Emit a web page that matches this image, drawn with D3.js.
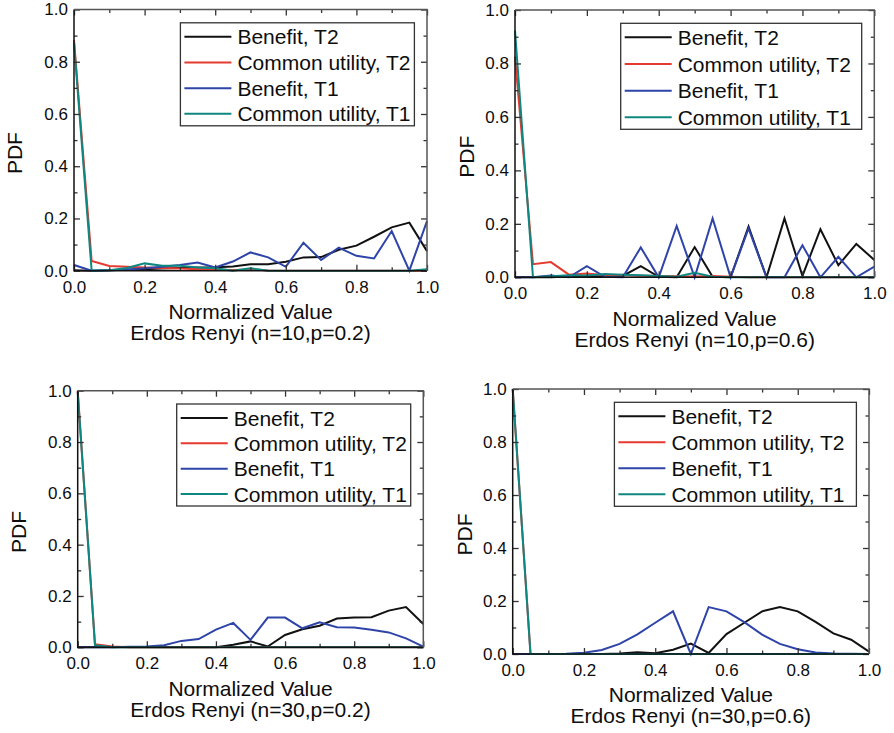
<!DOCTYPE html>
<html>
<head>
<meta charset="utf-8">
<title>PDF of normalized values</title>
<style>
  body { margin: 0; background: #fff; }
  text { font-family: "Liberation Sans", Arial, sans-serif; fill: #0d0d0d; }
</style>
</head>
<body>
<div id="container"></div>
<script src="https://cdn.jsdelivr.net/npm/d3@7"></script>
<script>
// normalized value bins
var xs = [0, 0.05, 0.1, 0.15, 0.2, 0.25, 0.3, 0.35, 0.4, 0.45, 0.5,
          0.55, 0.6, 0.65, 0.7, 0.75, 0.8, 0.85, 0.9, 0.95, 1.0];

var seriesNames = ["Benefit, T2", "Common utility, T2", "Benefit, T1", "Common utility, T1"];
var seriesColors = ["#111111", "#e53a2f", "#2e44a8", "#0f8781"];

var titles = ["Erdos Renyi (n=10,p=0.2)", "Erdos Renyi (n=10,p=0.6)",
              "Erdos Renyi (n=30,p=0.2)", "Erdos Renyi (n=30,p=0.6)"];

var yTicks = [0, 0.2, 0.4, 0.6, 0.8, 1.0];
var xTicks = [0, 0.2, 0.4, 0.6, 0.8, 1.0];
var minorTicks = [0.1, 0.3, 0.5, 0.7, 0.9];

// n=10, p=0.2
var p1Benefit2 = [0.002, 0, 0.002, 0.004, 0.006, 0.008, 0.01, 0.012, 0.013, 0.016, 0.025,
                  0.025, 0.034, 0.051, 0.052, 0.08, 0.096, 0.13, 0.166, 0.184, 0.075];
var p1Common2  = [0.883, 0.037, 0.018, 0.015, 0.012, 0.01, 0.008, 0.006, 0.005, 0.003, 0.005,
                  0.001, 0, 0, 0, 0, 0, 0, 0, 0, 0];
var p1Benefit1 = [0.022, 0, 0.002, 0.005, 0.009, 0.015, 0.022, 0.031, 0.012, 0.035, 0.07,
                  0.051, 0.015, 0.107, 0.041, 0.088, 0.057, 0.047, 0.152, 0, 0.19];
var p1Common1  = [0.873, 0, 0.002, 0.01, 0.028, 0.019, 0.019, 0.012, 0.009, 0, 0.009,
                  0, 0, 0, 0, 0, 0, 0, 0, 0, 0.006];

// n=10, p=0.6
var p2Benefit2 = [0, 0, 0, 0.003, 0.003, 0.005, 0.005, 0.042, 0.002, 0, 0.113,
                  0.002, 0, 0.19, 0, 0.22, 0.005, 0.18, 0.045, 0.125, 0.065];
var p2Common2  = [0.825, 0.049, 0.057, 0.01, 0.014, 0.008, 0.008, 0.006, 0.005, 0.004, 0.003,
                  0.005, 0.002, 0, 0, 0, 0, 0, 0, 0, 0];
var p2Benefit1 = [0, 0, 0.007, 0, 0.042, 0.002, 0, 0.112, 0, 0.192, 0,
                  0.22, 0, 0.183, 0, 0, 0.12, 0, 0.077, 0, 0.04];
var p2Common1  = [0.923, 0, 0.004, 0.008, 0.007, 0.012, 0.01, 0.008, 0.005, 0.002, 0.017,
                  0.002, 0, 0, 0, 0, 0, 0, 0, 0, 0];

// n=30, p=0.2
var p3Benefit2 = [0, 0, 0, 0, 0, 0, 0, 0.001, 0, 0.01, 0.023,
                  0.003, 0.048, 0.07, 0.084, 0.112, 0.116, 0.117, 0.143, 0.157, 0.091];
var p3Common2  = [1.0, 0.012, 0.003, 0, 0, 0, 0, 0, 0, 0, 0,
                  0, 0, 0, 0, 0, 0, 0, 0, 0, 0];
var p3Benefit1 = [0, 0, 0, 0.002, 0.003, 0.008, 0.025, 0.032, 0.069, 0.095, 0.029,
                  0.116, 0.116, 0.074, 0.097, 0.078, 0.077, 0.068, 0.058, 0.035, 0.003];
var p3Common1  = [0.996, 0.008, 0, 0, 0, 0, 0, 0, 0, 0, 0,
                  0, 0, 0, 0, 0, 0, 0, 0, 0, 0];

// n=30, p=0.6
var p4Benefit2 = [0, 0, 0, 0, 0, 0, 0.002, 0.007, 0.003, 0.016, 0.039,
                  0.004, 0.075, 0.118, 0.161, 0.177, 0.161, 0.121, 0.078, 0.054, 0.009];
var p4Common2  = [1.0, 0, 0, 0, 0, 0, 0, 0, 0, 0, 0,
                  0, 0, 0, 0, 0, 0, 0, 0, 0, 0];
var p4Benefit1 = [0, 0, 0, 0.001, 0.005, 0.015, 0.038, 0.074, 0.118, 0.161, 0,
                  0.177, 0.161, 0.12, 0.073, 0.038, 0.018, 0.006, 0.002, 0.001, 0];
var p4Common1  = [1.0, 0, 0, 0, 0, 0, 0, 0, 0, 0, 0,
                  0, 0, 0, 0, 0, 0, 0, 0, 0, 0];

var panelSeries = [
  [p1Benefit2, p1Common2, p1Benefit1, p1Common1],
  [p2Benefit2, p2Common2, p2Benefit1, p2Common1],
  [p3Benefit2, p3Common2, p3Benefit1, p3Common1],
  [p4Benefit2, p4Common2, p4Benefit1, p4Common1]
];

// plot rectangles (pixels) and legend boxes for each panel
var boxes = [
  { x0: 74,    x1: 427,   y0: 9.5,   y1: 270.7, lw: 234, lh: 103 },
  { x0: 515,   x1: 874.3, y0: 10,    y1: 277.3, lw: 241, lh: 106 },
  { x0: 77.7,  x1: 423.3, y0: 390.7, y1: 647.3, lw: 234, lh: 102 },
  { x0: 512.7, x1: 869,   y0: 389,   y1: 654,   lw: 242, lh: 104 }
];

function main() {
  var svg = d3.select("#container").append("svg")
    .attr("width", 894)
    .attr("height", 733);

  svg.append("rect").attr("width", 894).attr("height", 733).attr("fill", "#fff");

  boxes.forEach(function(b, i) {
    var w = b.x1 - b.x0, h = b.y1 - b.y0;
    var g = svg.append("g").attr("transform", "translate(" + b.x0 + "," + b.y0 + ")");

    var x = d3.scaleLinear().domain([0, 1]).range([0, w]);
    var y = d3.scaleLinear().domain([0, 1]).range([h, 0]);

    // data lines
    var line = d3.line()
      .x(function(d, j) { return x(xs[j]); })
      .y(function(d) { return y(d); });

    panelSeries[i].forEach(function(vals, k) {
      g.append("path")
        .datum(vals)
        .attr("d", line)
        .attr("fill", "none")
        .attr("stroke", seriesColors[k])
        .attr("stroke-width", 2)
        .attr("stroke-linejoin", "miter");
    });

    // axes, ticks pointing inward
    function styleAxis(sel) {
      sel.select(".domain").remove();
      sel.selectAll(".tick line").attr("stroke", "#333").attr("stroke-width", 1.3);
      sel.selectAll(".tick text")
        .style("font-size", "17px")
        .style("font-family", "'Liberation Sans', Arial, sans-serif")
        .attr("fill", "#0d0d0d");
    }

    g.append("g").attr("transform", "translate(0," + h + ")")
      .call(d3.axisBottom(x).tickValues(xTicks).tickFormat(d3.format(".1f")).tickSize(-6).tickPadding(10))
      .call(styleAxis);
    g.append("g").attr("transform", "translate(0," + h + ")")
      .call(d3.axisBottom(x).tickValues(minorTicks).tickFormat("").tickSize(-3.5))
      .call(styleAxis);
    g.append("g")
      .call(d3.axisTop(x).tickValues(xTicks).tickFormat("").tickSize(-6))
      .call(styleAxis);
    g.append("g")
      .call(d3.axisTop(x).tickValues(minorTicks).tickFormat("").tickSize(-3.5))
      .call(styleAxis);

    g.append("g")
      .call(d3.axisLeft(y).tickValues(yTicks).tickFormat(d3.format(".1f")).tickSize(-6).tickPadding(6))
      .call(styleAxis);
    g.append("g")
      .call(d3.axisLeft(y).tickValues(minorTicks).tickFormat("").tickSize(-3.5))
      .call(styleAxis);
    g.append("g").attr("transform", "translate(" + w + ",0)")
      .call(d3.axisRight(y).tickValues(yTicks).tickFormat("").tickSize(-6))
      .call(styleAxis);
    g.append("g").attr("transform", "translate(" + w + ",0)")
      .call(d3.axisRight(y).tickValues(minorTicks).tickFormat("").tickSize(-3.5))
      .call(styleAxis);

    // frame
    g.append("path")
      .attr("d", "M0,0V" + h + "H" + w)
      .attr("fill", "none").attr("stroke", "#111").attr("stroke-width", 1.5);
    g.append("path")
      .attr("d", "M0,0H" + w + "V" + h)
      .attr("fill", "none").attr("stroke", "#555").attr("stroke-width", 1.5);

    // axis labels
    g.append("text")
      .attr("x", w / 2).attr("y", h + 41).attr("dy", "0.35em")
      .attr("text-anchor", "middle")
      .style("font-size", "21px")
      .text("Normalized Value");
    g.append("text")
      .attr("x", w / 2).attr("y", h + 62).attr("dy", "0.35em")
      .attr("text-anchor", "middle")
      .style("font-size", "21px")
      .text(titles[i]);
    g.append("text")
      .attr("transform", "translate(" + (i % 2 === 0 ? -59 : -48) + "," + (h / 2 + 13) + ") rotate(-90)")
      .attr("dy", "0.35em")
      .attr("text-anchor", "middle")
      .style("font-size", "21px")
      .text("PDF");

    // legend
    var lg = g.append("g").attr("transform", "translate(" + (w - 12.6 - b.lw) + ",13.3)");
    lg.append("rect")
      .attr("width", b.lw).attr("height", b.lh)
      .attr("fill", "#fff").attr("stroke", "#333").attr("stroke-width", 1.3);
    var rowStep = (b.lh - 26) / 3;
    seriesNames.forEach(function(name, k) {
      var ry = 14 + k * rowStep;
      lg.append("line")
        .attr("x1", 4).attr("x2", 51).attr("y1", ry).attr("y2", ry)
        .attr("stroke", seriesColors[k]).attr("stroke-width", 2);
      lg.append("text")
        .attr("x", 57).attr("y", ry).attr("dy", "0.36em")
        .style("font-size", "21px")
        .text(name);
    });
  });
}

window.onload = main;
</script>
</body>
</html>
